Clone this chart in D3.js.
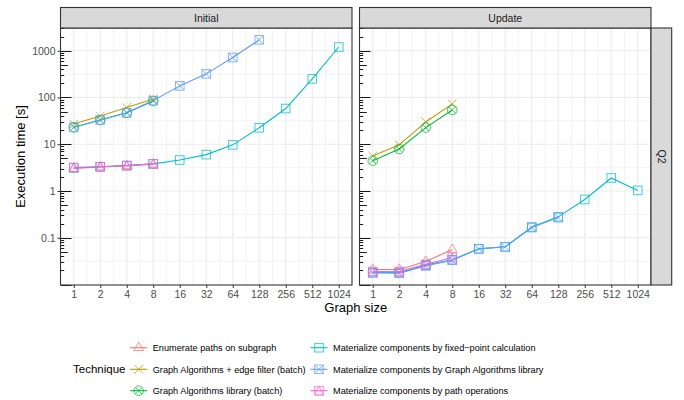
<!DOCTYPE html>
<html>
<head>
<meta charset="utf-8">
<script src="https://cdn.jsdelivr.net/npm/d3@7"></script>
<style>
  body { margin: 0; background: #fff; }
  svg { font-family: "Liberation Sans", Arial, sans-serif; display: block; }
</style>
</head>
<body>
<svg id="chart" width="684" height="400"></svg>
<script>
// graph sizes (x axis, log2)
const sizes = [1, 2, 4, 8, 16, 32, 64, 128, 256, 512, 1024];
const phases = ["Initial", "Update"];
const rowLabel = "Q2";
const yTicks = [0.1, 1, 10, 100, 1000];

const techniques = [
    "Enumerate paths on subgraph",
    "Graph Algorithms + edge filter (batch)",
    "Graph Algorithms library (batch)",
    "Materialize components by fixed\u2212point calculation",
    "Materialize components by Graph Algorithms library",
    "Materialize components by path operations"
];
const colors = ["#F8766D", "#B79F00", "#00BA38", "#00BFC4", "#619CFF", "#F564E3"];
const shapes = ["triangle", "cross", "circleCross", "square", "squareCross", "squareTriangle"];

// execution times [s], aligned with sizes (null = not measured)
const initialEnumerate = [3.05, 3.25, 3.45, 3.75];
const initialEdgeFilter = [27, 40, 61, 93];
const initialGaBatch = [23, 33, 47, 84];
const initialFixedPoint = [3.1, 3.3, 3.5, 3.8, 4.6, 6.0, 9.7, 22.5, 58, 250, 1200];
const initialGaLibrary = [23, 33, 47, 86, 177, 320, 716, 1710];
const initialPathOps = [3.2, 3.3, 3.5, 3.8];

const updateEnumerate = [0.021, 0.021, 0.031, 0.056];
const updateEdgeFilter = [5.6, 9.7, 30, 73];
const updateGaBatch = [4.45, 7.9, 22.7, 54];
const updateFixedPoint = [0.018, 0.018, 0.026, 0.034, 0.058, 0.064, 0.17, 0.28, 0.66, 1.9, 1.03];
const updateGaLibrary = [0.0178, 0.0175, 0.025, 0.033, 0.058, 0.064, 0.165, 0.27];
const updatePathOps = [0.019, 0.019, 0.027, 0.038];

const series = {
    Initial: [initialEnumerate, initialEdgeFilter, initialGaBatch, initialFixedPoint, initialGaLibrary, initialPathOps],
    Update: [updateEnumerate, updateEdgeFilter, updateGaBatch, updateFixedPoint, updateGaLibrary, updatePathOps]
};

const svg = d3.select("#chart");

const panelTop = 28, panelBottom = 285;
const panels = [{x0: 60.5, x1: 352}, {x0: 359.5, x1: 651}];
const stripTop = 7.5;
const border = "#333333";

const y = d3.scaleLog()
    .domain([Math.pow(10, -2.01), Math.pow(10, 3.486)])
    .range([panelBottom, panelTop]);

// marker drawing, roughly ggplot shapes 2, 4, 13, 0, 7, 14
function drawShape(g, shape, cx, cy, color) {
    const h = 4.3;
    const p = g.append("g")
        .attr("transform", `translate(${cx},${cy})`)
        .attr("fill", "none")
        .attr("stroke", color)
        .attr("stroke-width", 1)
        .attr("opacity", 0.75);
    if (shape === "triangle") {
        const r = 5.6;
        p.append("path").attr("d", `M0,${-r} L${r * 0.866},${r * 0.5} L${-r * 0.866},${r * 0.5} Z`);
    } else if (shape === "cross") {
        p.append("path").attr("d", `M${-h},${-h} L${h},${h} M${-h},${h} L${h},${-h}`);
    } else if (shape === "circleCross") {
        const r = 4.8, d = r * 0.707;
        p.append("circle").attr("r", r);
        p.append("path").attr("d", `M${-d},${-d} L${d},${d} M${-d},${d} L${d},${-d}`);
    } else if (shape === "square") {
        p.append("rect").attr("x", -h).attr("y", -h).attr("width", 2 * h).attr("height", 2 * h);
    } else if (shape === "squareCross") {
        p.append("rect").attr("x", -h).attr("y", -h).attr("width", 2 * h).attr("height", 2 * h);
        p.append("path").attr("d", `M${-h},${-h} L${h},${h} M${-h},${h} L${h},${-h}`);
    } else if (shape === "squareTriangle") {
        p.append("rect").attr("x", -h).attr("y", -h).attr("width", 2 * h).attr("height", 2 * h);
        p.append("path").attr("d", `M0,${-h} L${h},${h} L${-h},${h} Z`);
    }
}

phases.forEach((phase, pi) => {
    const pan = panels[pi];
    const x = d3.scaleLog().base(2)
        .domain([Math.pow(2, -0.5), Math.pow(2, 10.5)])
        .range([pan.x0, pan.x1]);

    const g = svg.append("g");

    // background grid
    const minorX = sizes.slice(0, -1).map(s => s * Math.SQRT2);
    const minorY = [-2, -1, 0, 1, 2].map(e => Math.pow(10, e + 0.5));
    g.selectAll(".gx-minor").data(minorX).enter().append("line")
        .attr("x1", d => x(d)).attr("x2", d => x(d))
        .attr("y1", panelTop).attr("y2", panelBottom)
        .attr("stroke", "#f0f0f0").attr("stroke-width", 0.8);
    g.selectAll(".gy-minor").data(minorY).enter().append("line")
        .attr("x1", pan.x0).attr("x2", pan.x1)
        .attr("y1", d => y(d)).attr("y2", d => y(d))
        .attr("stroke", "#f0f0f0").attr("stroke-width", 0.8);
    g.selectAll(".gx").data(sizes).enter().append("line")
        .attr("x1", d => x(d)).attr("x2", d => x(d))
        .attr("y1", panelTop).attr("y2", panelBottom)
        .attr("stroke", "#ebebeb").attr("stroke-width", 1.1);
    g.selectAll(".gy").data(yTicks).enter().append("line")
        .attr("x1", pan.x0).attr("x2", pan.x1)
        .attr("y1", d => y(d)).attr("y2", d => y(d))
        .attr("stroke", "#ebebeb").attr("stroke-width", 1.1);

    // log ticks inside the panel (left side)
    const logTicks = [];
    for (let e = -2; e <= 3; e++) {
        for (let m = 1; m <= 9; m++) {
            const v = m * Math.pow(10, e);
            if (v > y.domain()[0] && v < y.domain()[1]) logTicks.push({v: v, len: m === 1 ? 11 : (m === 5 ? 7.3 : 3.7)});
        }
    }
    g.selectAll(".logtick").data(logTicks).enter().append("line")
        .attr("x1", pan.x0).attr("x2", d => pan.x0 + d.len)
        .attr("y1", d => Math.round(y(d.v)) + 0.5).attr("y2", d => Math.round(y(d.v)) + 0.5)
        .attr("stroke", "#000").attr("stroke-width", 0.9);

    // lines then points
    const line = d3.line()
        .defined(d => d.v != null)
        .x(d => x(d.n))
        .y(d => y(d.v));
    series[phase].forEach((vals, ti) => {
        const pts = sizes.map((n, i) => ({n: n, v: vals[i] === undefined ? null : vals[i]}));
        g.append("path")
            .datum(pts)
            .attr("d", line)
            .attr("fill", "none")
            .attr("stroke", colors[ti])
            .attr("stroke-width", 1.1);
    });
    series[phase].forEach((vals, ti) => {
        vals.forEach((v, i) => {
            if (v == null) return;
            drawShape(g, shapes[ti], x(sizes[i]), y(v), colors[ti]);
        });
    });

    // panel border
    g.append("rect")
        .attr("x", pan.x0).attr("y", panelTop)
        .attr("width", pan.x1 - pan.x0).attr("height", panelBottom - panelTop)
        .attr("fill", "none").attr("stroke", border).attr("stroke-width", 1.1);

    // top strip
    g.append("rect")
        .attr("x", pan.x0).attr("y", stripTop)
        .attr("width", pan.x1 - pan.x0).attr("height", panelTop - stripTop)
        .attr("fill", "#d9d9d9").attr("stroke", border).attr("stroke-width", 1.1);
    g.append("text")
        .attr("x", (pan.x0 + pan.x1) / 2).attr("y", 21.8)
        .attr("text-anchor", "middle")
        .attr("font-size", 10.5).attr("fill", "#1a1a1a")
        .text(phase);

    // x axis
    const xAxis = svg.append("g")
        .attr("transform", `translate(0,${panelBottom})`)
        .call(d3.axisBottom(x).tickValues(sizes).tickFormat(d3.format("d")).tickSize(3).tickPadding(3));
    xAxis.select(".domain").remove();
    xAxis.selectAll(".tick line").attr("stroke", border);
    xAxis.selectAll(".tick text")
        .attr("fill", "#4d4d4d").attr("font-size", 10.5)
        .attr("font-family", "Liberation Sans, Arial, sans-serif");

    if (pi === 0) {
        const yAxis = svg.append("g")
            .attr("transform", `translate(${pan.x0},0)`)
            .call(d3.axisLeft(y).tickValues(yTicks)
                .tickFormat(d => d >= 1 ? d3.format("d")(d) : String(d))
                .tickSize(3).tickPadding(2));
        yAxis.select(".domain").remove();
        yAxis.selectAll(".tick line").attr("stroke", border);
        yAxis.selectAll(".tick text")
            .attr("fill", "#4d4d4d").attr("font-size", 10.5)
            .attr("font-family", "Liberation Sans, Arial, sans-serif");
    }
});

// right strip
const last = panels[panels.length - 1];
svg.append("rect")
    .attr("x", last.x1).attr("y", panelTop)
    .attr("width", 20.7).attr("height", panelBottom - panelTop)
    .attr("fill", "#d9d9d9").attr("stroke", border).attr("stroke-width", 1.1);
svg.append("text")
    .attr("transform", `translate(${last.x1 + 6.8},${(panelTop + panelBottom) / 2}) rotate(90)`)
    .attr("text-anchor", "middle")
    .attr("font-size", 10.5).attr("fill", "#1a1a1a")
    .text(rowLabel);

// axis titles
svg.append("text")
    .attr("x", (panels[0].x0 + last.x1) / 2).attr("y", 312)
    .attr("text-anchor", "middle")
    .attr("font-size", 13)
    .text("Graph size");
svg.append("text")
    .attr("transform", `translate(24.5,${(panelTop + panelBottom) / 2}) rotate(-90)`)
    .attr("text-anchor", "middle")
    .attr("font-size", 13)
    .text("Execution time [s]");

// legend
const legend = svg.append("g");
legend.append("text")
    .attr("x", 73).attr("y", 373)
    .attr("font-size", 11.5)
    .text("Technique");
const rowY = [347.7, 369.3, 390.7];
const colKeyX = [138.7, 319];
techniques.forEach((name, i) => {
    const col = Math.floor(i / 3), row = i % 3;
    const cx = colKeyX[col], cy = rowY[row];
    legend.append("line")
        .attr("x1", cx - 8.5).attr("x2", cx + 8.5)
        .attr("y1", cy).attr("y2", cy)
        .attr("stroke", colors[i]).attr("stroke-width", 1.1);
    drawShape(legend, shapes[i], cx, cy, colors[i]);
    legend.append("text")
        .attr("x", cx + 14).attr("y", cy + 3.3)
        .attr("font-size", 9.2)
        .text(name);
});
</script>
</body>
</html>
